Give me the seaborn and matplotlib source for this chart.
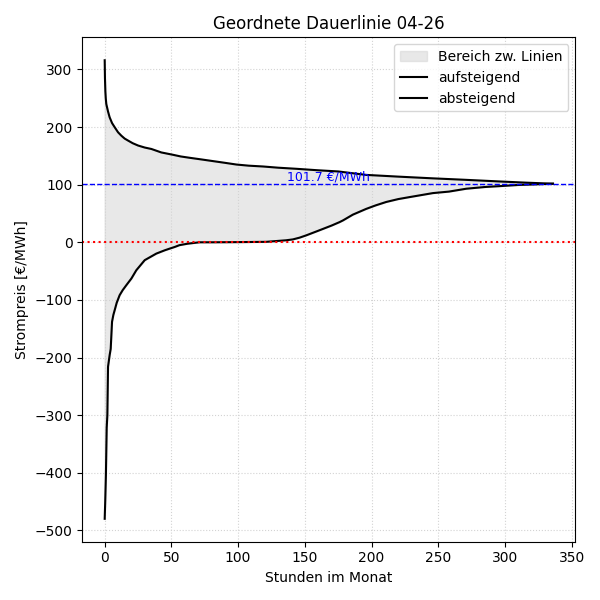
import matplotlib
matplotlib.use("Agg")
import matplotlib.pyplot as plt
import seaborn as sns
import numpy as np
import pandas as pd

# Stunden / Preise (absteigend sortiert, obere Linie)
hours_desc = [0, 0.2, 0.5, 0.8, 1.2, 2.5, 3.7, 5.5, 7.5, 10, 12.5, 15, 17.5, 21, 25, 30, 35, 42.4,
              51, 57, 64, 72, 81, 90, 98.7, 108, 118.7, 130, 143.6, 160, 175, 196, 220, 246,
              270, 296, 316, 336]
price_desc = [316, 285, 262, 250, 240, 227, 217, 207, 199.7, 191, 185, 180, 176.6, 172, 168,
              164.5, 162, 156, 152, 149, 146.6, 144, 141, 138, 135, 133, 131.6, 129.5, 127.6,
              125, 123, 117, 114, 111, 108.5, 105.6, 103.5, 101.7]

# Stunden / Preise (aufsteigend sortiert, untere Linie)
hours_asc = [0, 0.4, 0.9, 1.5, 2.0, 2.5, 3.7, 4.5, 5.5, 6.5, 7.5, 9, 11.2, 13.5, 16.2, 20, 23.7,
             30, 38.7, 45, 48.7, 52.5, 56, 62, 71, 81, 100, 121, 136, 141, 146, 151, 160, 170,
             176, 178.6, 186, 196, 203, 211, 220, 228.6, 246, 258, 271, 285, 296, 310, 321, 336]
price_asc = [-480, -450, -405, -322, -300, -216, -196, -185, -138, -126, -117.7, -105, -91.8,
             -83, -74.5, -62.9, -48.5, -31, -19.6, -13.9, -11, -8.1, -5, -2.5, 0, 0, 0.3, 0.8,
             3.5, 5, 8, 12, 20, 29, 35, 38, 48, 58, 64, 70, 75, 78.5, 85.4, 88, 93, 96, 97.5,
             99.5, 100.4, 101.7]

mean_price = 101.7
title = "Geordnete Dauerlinie 04-26"

fig, ax = plt.subplots(figsize=(6, 6), dpi=100)

# Fläche zwischen den Linien (auf gemeinsamem Stundenraster)
grid_x = np.array(sorted(set(hours_desc) | set(hours_asc)))
up_i = np.interp(grid_x, hours_desc, price_desc)
lo_i = np.interp(grid_x, hours_asc, price_asc)
ax.fill_between(grid_x, lo_i, up_i, color="lightgray", alpha=0.5, label="Bereich zw. Linien")

df_asc = pd.DataFrame({"h": hours_asc, "p": price_asc})
df_desc = pd.DataFrame({"h": hours_desc, "p": price_desc})
sns.lineplot(data=df_asc, x="h", y="p", ax=ax, color="black", linewidth=1.5,
             label="aufsteigend", estimator=None, sort=False)
sns.lineplot(data=df_desc, x="h", y="p", ax=ax, color="black", linewidth=1.5,
             label="absteigend", estimator=None, sort=False)

ax.axhline(mean_price, color="blue", linestyle="--", linewidth=1)
ax.axhline(0, color="red", linestyle=":", linewidth=1.5)
ax.text(max(hours_desc) / 2, mean_price, f"{mean_price:.1f} €/MWh", color="blue",
        ha="center", va="bottom", fontsize=9)

ax.set_title(title)
ax.set_xlabel("Stunden im Monat")
ax.set_ylabel("Strompreis [€/MWh]")
ax.grid(True, linestyle=":", color="lightgray", linewidth=0.8)
ax.legend(loc="upper right")

fig.tight_layout()
fig.savefig("out.png", dpi=100)
